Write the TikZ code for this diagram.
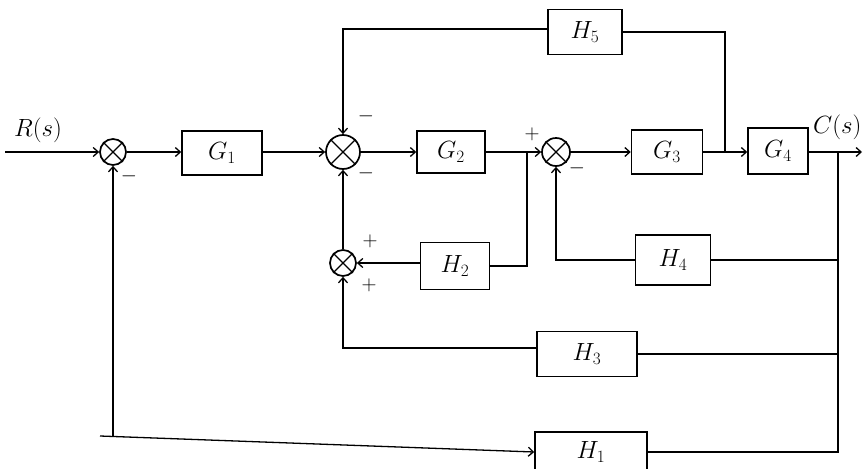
\documentclass[tikz,border=0pt]{standalone}
\usetikzlibrary{arrows.meta,calc}
\begin{document}
\begin{tikzpicture}[x=1pt,y=-1pt, line width=1.3pt,
 >={Straight Barb[length=5pt,width=9pt]},
 blk/.style={draw, rectangle, inner sep=0pt, line width=1.5pt, font=\fontsize{23}{26}\selectfont},
 sumj/.style={draw, circle, inner sep=0pt, line width=1.7pt},
 sgn/.style={font=\fontsize{20}{22}\selectfont, inner sep=1pt},
 lbl/.style={font=\fontsize{24}{28}\selectfont, inner sep=1pt}]
\useasboundingbox (0,0) rectangle (863,469);
% summing junctions
\node[sumj, minimum size=26pt] (s1) at (113,152) {};
\node[sumj, minimum size=34pt] (s2) at (343,152) {};
\node[sumj, minimum size=28pt] (s3) at (556,152) {};
\node[sumj, minimum size=26pt] (s4) at (343,263) {};
\foreach \s in {s1,s2,s3,s4}{
  \draw (\s.45) -- (\s.225) (\s.135) -- (\s.315);
}
% blocks
\node[blk, minimum width=80pt, minimum height=44pt] (G1) at (222,153) {$G_1$};
\node[blk, minimum width=68pt, minimum height=42pt] (G2) at (451,152) {$G_2$};
\node[blk, minimum width=71pt, minimum height=44pt] (G3) at (667,152) {$G_3$};
\node[blk, minimum width=60pt, minimum height=46pt] (G4) at (778,151) {$G_4$};
\node[blk, minimum width=74pt, minimum height=45pt] (H5) at (585,32) {$H_5$};
\node[blk, minimum width=69pt, minimum height=47pt] (H2) at (455,266) {$H_2$};
\node[blk, minimum width=75pt, minimum height=50pt] (H4) at (673,260) {$H_4$};
\node[blk, minimum width=100pt, minimum height=45pt] (H3) at (587,354) {$H_3$};
\node[blk, minimum width=112pt, minimum height=40pt] (H1) at (591,452) {$H_1$};
% coordinates
\coordinate (in) at (5,152);
\coordinate (out) at (862,152);
\coordinate (bG2) at (527,152);
\coordinate (bG3) at (725,152);
\coordinate (bOut) at (838,152);
\coordinate (h5l) at (343,29);
\coordinate (h1l) at (113,436);
\coordinate (h1e) at (100,436);
% labels
\node[lbl] (R) at (38,130) {$R(s)$};
\node[lbl, anchor=east] (C) at (863,127) {$C(s)$};
% forward path
\draw[->] (in) -- (s1.west);
\draw[->] (s1.east) -- (s1.east -| G1.west);
\draw[->] (G1.east |- s2.west) -- (s2.west);
\draw[->] (s2.east) -- (s2.east -| G2.west);
\draw[->] (G2.east) -- (s3.west);
\draw[->] (s3.east) -- (s3.east -| G3.west);
\draw[->] (G3.east) -- (G3.east -| G4.west);
\draw[->] (G4.east |- out) -- (out);
% H5 path
\draw[->] (H5.west |- h5l) -- (h5l) -- (s2.north);
\draw (H5.east |- 0,32) -- (725,32) -- (bG3);
% H2 loop
\draw (bG2) |- (H2.east);
\draw[->] (H2.west |- s4.east) -- (s4.east);
\draw[->] (s4.north) -- (s2.south);
% H4 loop
\draw (bOut) |- (H4.east);
\draw[->] (H4.west) -| (s3.south);
% H3 loop
\draw (bOut |- H3.east) -- (H3.east);
\draw[->] (H3.west |- 0,348) -| (s4.south);
% H1 loop
\draw (bOut) -- (838,452) -- (H1.east);
\draw[->] (h1e) -- (H1.west);
\draw[->] (h1l) -- (s1.south);
% signs
\node[sgn] (m1) at (129,176) {$-$};
\node[sgn] (m2) at (366,116) {$-$};
\node[sgn] (m3) at (366,173) {$-$};
\node[sgn] (p1) at (532,134) {$+$};
\node[sgn] (m4) at (577,168) {$-$};
\node[sgn] (p2) at (370,241) {$+$};
\node[sgn] (p3) at (369,285) {$+$};
\end{tikzpicture}
\end{document}
